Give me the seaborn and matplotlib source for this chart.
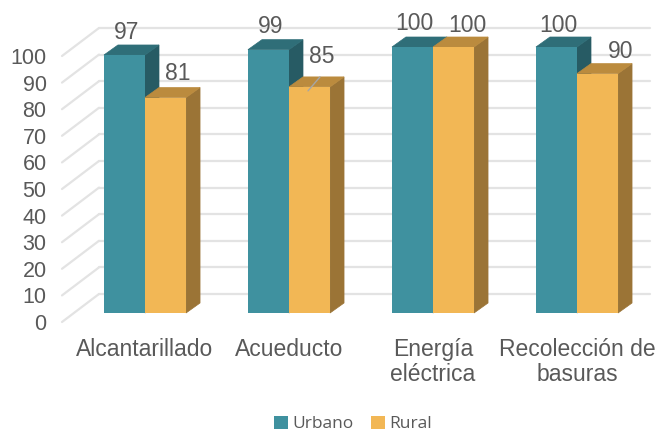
import pandas as pd
import matplotlib
matplotlib.use("Agg")
import matplotlib.pyplot as plt
from matplotlib.patches import Polygon
from matplotlib.transforms import ScaledTranslation
import seaborn as sns

# datos
categorias = ["Alcantarillado", "Acueducto", "Energía\neléctrica", "Recolección de\nbasuras"]
urbano = [97, 99, 100, 100]
rural = [81, 85, 100, 90]
ticks = list(range(0, 101, 10))

# colores: frente, tapa, lado
colores = {"Urbano": "#3F919F", "Rural": "#F2B755"}
tapas = {"Urbano": "#2F6E78", "Rural": "#BB8B3E"}
lados = {"Urbano": "#275B64", "Rural": "#9B7436"}
gris = "#595959"

# ajuste de etiquetas respecto a la tapa de cada barra, en pixeles
nudge_urbano = [(2, 22), (2, 23), (2, 23), (2, 22)]
nudge_rural = [(12, 24), (12, 30), (14, 21), (23, 22)]

df = pd.DataFrame({
    "categoria": categorias * 2,
    "serie": ["Urbano"] * 4 + ["Rural"] * 4,
    "valor": urbano + rural,
})

sns.set_theme(style="white")
plt.rcParams["font.family"] = ["Liberation Sans", "DejaVu Sans"]

W, H = 667, 433
fig = plt.figure(figsize=(W / 100, H / 100), dpi=100)
ax = fig.add_axes([73 / W, 1 - 313 / H, 576 / W, 266 / H])

sns.barplot(data=df, x="categoria", y="valor", hue="serie", palette=colores,
            width=0.57, gap=0, saturation=1, ax=ax, zorder=3, linewidth=0, edgecolor="none")

ax.set_xlim(-0.5, 3.5)
ax.set_ylim(0, 100)
sns.despine(ax=ax, left=True, bottom=True)
ax.set_xlabel("")
ax.set_ylabel("")

# profundidad del 3D pasada a unidades de datos
px_x = 4 / 576
px_y = 100 / 266
dx, dy = 14 * px_x, 10 * px_y

# paredes con rejilla
for t in ticks:
    ax.plot([-11 * px_x - 0.5, 26 * px_x - 0.5], [t - 9 * px_y, t + 19 * px_y],
            color="#E3E3E3", lw=1.6, clip_on=False, zorder=1)
    ax.plot([26 * px_x - 0.5, 3.5 + 1 * px_x], [t + 19 * px_y, t + 19 * px_y],
            color="#E3E3E3", lw=1.6, clip_on=False, zorder=1)

# caras de arriba y del lado, a partir de las barras de seaborn
for i, serie in enumerate(["Urbano", "Rural"]):
    z = 3 + i
    barras = ax.containers[i]
    nudges = nudge_urbano if serie == "Urbano" else nudge_rural
    for j, b in enumerate(barras):
        x0 = b.get_x()
        x1 = x0 + b.get_width()
        h = b.get_height()
        b.set_zorder(z + 0.5)
        # el borde fino tapa la costura entre caras
        ax.add_patch(Polygon([(x1, 0), (x1 + dx, dy), (x1 + dx, h + dy), (x1, h)],
                             color=lados[serie], lw=0.5, clip_on=False, zorder=z))
        ax.add_patch(Polygon([(x0, h), (x1, h), (x1 + dx, h + dy), (x0 + dx, h + dy)],
                             color=tapas[serie], lw=0.5, clip_on=False, zorder=z + 0.1))
        nx, ny = nudges[j]
        ax.annotate(str(int(h)), (x0 + b.get_width() / 2, h), xytext=(nx * 0.72, ny * 0.72),
                    textcoords="offset points", ha="center", va="center",
                    fontsize=16.5, color=gris, zorder=10, annotation_clip=False)

# linea guia del 85
b = ax.containers[1][1]
ax.plot([b.get_x() + 19 * px_x, b.get_x() + 31 * px_x],
        [b.get_height() - 4 * px_y, b.get_height() + 10 * px_y],
        color="#A6A6A6", lw=1, clip_on=False, zorder=9)

ax.set_yticks(ticks)
ax.set_yticklabels([str(t) for t in ticks], fontsize=15.5, color=gris)
ax.tick_params(axis="y", length=0, pad=19)
ax.tick_params(axis="x", length=0, pad=18)
ax.set_xticks(range(len(categorias)))
ax.set_xticklabels(categorias, fontsize=16.5, color=gris, linespacing=1.1)
bajar = ScaledTranslation(0, -9 / 100, fig.dpi_scale_trans)
for lab in ax.get_yticklabels():
    lab.set_transform(lab.get_transform() + bajar)

leg = ax.legend(ncol=2, frameon=False, loc="center", bbox_to_anchor=(353 / W, 1 - 424 / H),
                bbox_transform=fig.transFigure, handlelength=0.8, handleheight=0.8,
                handletextpad=0.25, columnspacing=1.0,
                prop={"family": "Open Sans", "size": 12.5})
for txt in leg.get_texts():
    txt.set_color(gris)

fig.savefig("out.png", dpi=100, facecolor="white")
